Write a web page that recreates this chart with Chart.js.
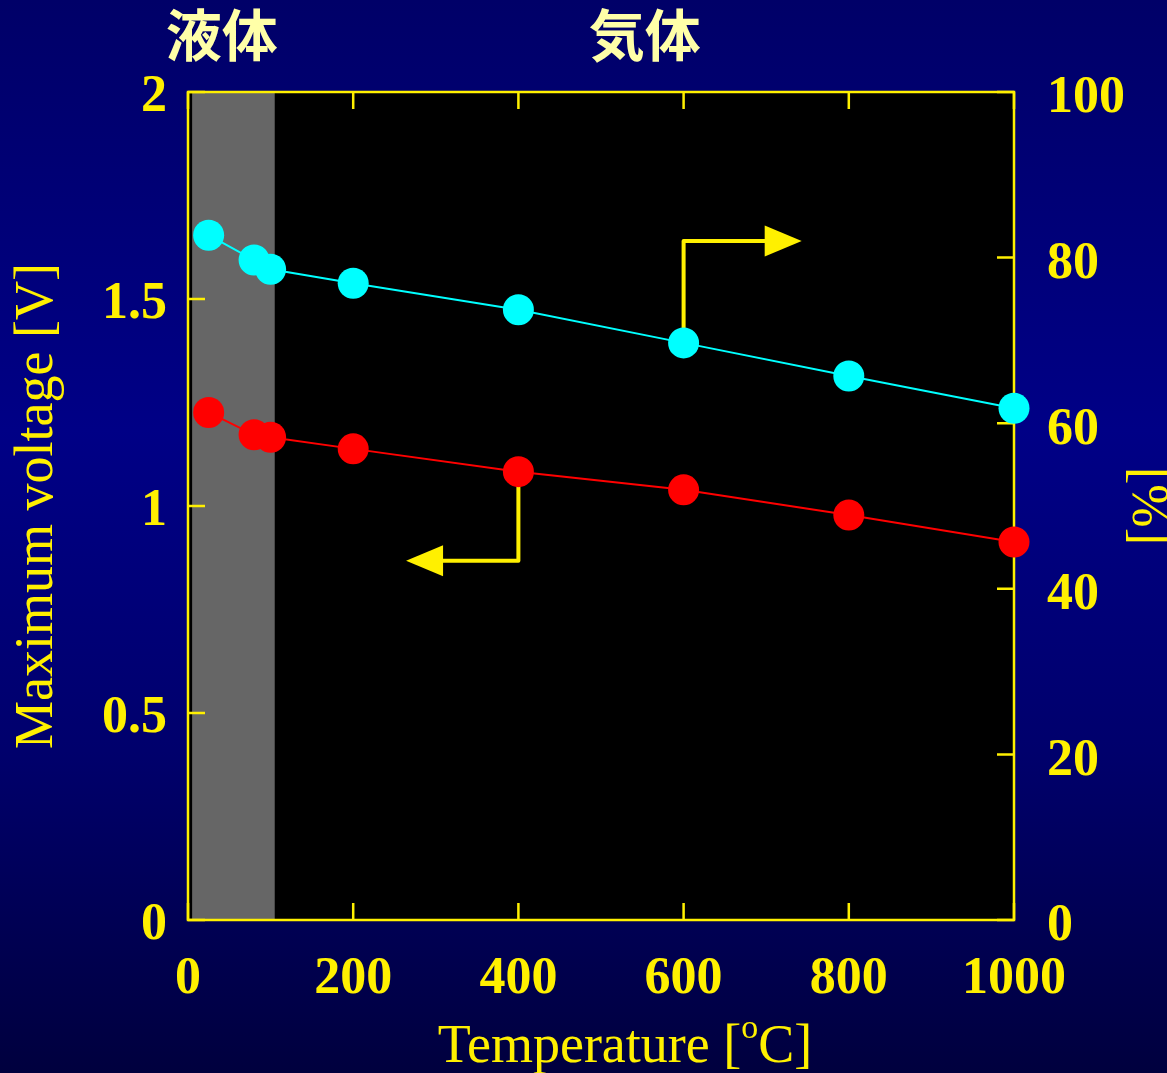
<!DOCTYPE html>
<html>
<head>
<meta charset="utf-8">
<script src="https://cdn.jsdelivr.net/npm/chart.js@4.4.0/dist/chart.umd.min.js"></script>
<style>
  html, body { margin: 0; padding: 0; background: #000060; }
  canvas { display: block; }
</style>
</head>
<body>
<canvas id="tempChart" width="1167" height="1073"></canvas>
<script>
// temperature [degC]
var temps = [25, 80, 100, 200, 400, 600, 800, 1000];
// maximum voltage [V] (left axis)
var maxVoltage = [1.226, 1.172, 1.166, 1.138, 1.083, 1.039, 0.978, 0.913];
// efficiency [%] (right axis)
var efficiency = [82.7, 79.7, 78.6, 76.9, 73.7, 69.7, 65.7, 61.8];

var xTicks = [0, 200, 400, 600, 800, 1000];
var yTicks = [0, 0.5, 1, 1.5, 2];
var y1Ticks = [0, 20, 40, 60, 80, 100];

// liquid region (grey band) on the temperature axis
var liquidRange = [5, 105];
var phaseLabels = ['液体', '気体'];
var phaseLabelX = [41, 553];

// arrow paths, in axis units
var effArrowX = [600, 600, 743];
var effArrowY = [69.7, 82, 82];
var voltArrowX = [400, 400, 264];
var voltArrowY = [1.083, 0.868, 0.868];

var YELLOW = '#fff000';
var SERIF = '"Liberation Serif", "Times New Roman", serif';

function fixTicks(values) {
  return function(scale) {
    scale.ticks = values.map(function(v) { return { value: v }; });
  };
}

function plainLabel(value) {
  return String(value);
}

function drawArrow(ctx, xs, ys, xScale, yScale) {
  var pts = xs.map(function(x, i) {
    return [xScale.getPixelForValue(x), yScale.getPixelForValue(ys[i])];
  });
  var n = pts.length;
  var tip = pts[n - 1], prev = pts[n - 2];
  var dir = tip[0] > prev[0] ? 1 : -1;
  var headLen = 37, headHalf = 15.5;
  ctx.save();
  ctx.strokeStyle = YELLOW;
  ctx.fillStyle = YELLOW;
  ctx.lineWidth = 4;
  ctx.lineJoin = 'round';
  ctx.lineCap = 'round';
  ctx.beginPath();
  ctx.moveTo(pts[0][0], pts[0][1]);
  for (var i = 1; i < n - 1; i++) ctx.lineTo(pts[i][0], pts[i][1]);
  ctx.lineTo(tip[0] - dir * headLen, tip[1]);
  ctx.stroke();
  ctx.beginPath();
  ctx.moveTo(tip[0], tip[1]);
  ctx.lineTo(tip[0] - dir * headLen, tip[1] - headHalf);
  ctx.lineTo(tip[0] - dir * headLen, tip[1] + headHalf);
  ctx.closePath();
  ctx.fill();
  ctx.restore();
}

var framePlugin = {
  id: 'frame',
  beforeDraw: function(chart) {
    var ctx = chart.ctx;
    var g = ctx.createLinearGradient(0, 0, 0, chart.height);
    g.addColorStop(0, '#000068');
    g.addColorStop(0.4, '#000086');
    g.addColorStop(0.7, '#00006c');
    g.addColorStop(1, '#00003e');
    ctx.save();
    ctx.fillStyle = g;
    ctx.fillRect(0, 0, chart.width, chart.height);
    ctx.restore();
  },
  beforeDatasetsDraw: function(chart) {
    var ctx = chart.ctx, a = chart.chartArea;
    var xs = chart.scales.x, ys = chart.scales.y, y1 = chart.scales.y1;
    ctx.save();
    ctx.fillStyle = '#000000';
    ctx.fillRect(a.left, a.top, a.right - a.left, a.bottom - a.top);
    var g0 = xs.getPixelForValue(liquidRange[0]);
    var g1 = xs.getPixelForValue(liquidRange[1]);
    ctx.fillStyle = '#666666';
    ctx.fillRect(g0, a.top, g1 - g0, a.bottom - a.top);

    // frame
    ctx.strokeStyle = YELLOW;
    ctx.lineWidth = 2.5;
    ctx.strokeRect(a.left, a.top, a.right - a.left, a.bottom - a.top);

    // inward ticks
    var tl = 17;
    ctx.beginPath();
    xs.ticks.forEach(function(t) {
      var px = xs.getPixelForValue(t.value);
      ctx.moveTo(px, a.bottom); ctx.lineTo(px, a.bottom - tl);
      ctx.moveTo(px, a.top); ctx.lineTo(px, a.top + tl);
    });
    ys.ticks.forEach(function(t) {
      var py = ys.getPixelForValue(t.value);
      ctx.moveTo(a.left, py); ctx.lineTo(a.left + tl, py);
    });
    y1.ticks.forEach(function(t) {
      var py = y1.getPixelForValue(t.value);
      ctx.moveTo(a.right, py); ctx.lineTo(a.right - tl, py);
    });
    ctx.stroke();
    ctx.restore();

    drawArrow(ctx, effArrowX, effArrowY, xs, y1);
    drawArrow(ctx, voltArrowX, voltArrowY, xs, ys);
  },
  afterDraw: function(chart) {
    var ctx = chart.ctx, a = chart.chartArea, xs = chart.scales.x;
    ctx.save();
    // phase labels
    ctx.fillStyle = '#ffffa8';
    ctx.font = 'bold 56px "Noto Sans CJK JP", sans-serif';
    ctx.textAlign = 'center';
    ctx.textBaseline = 'middle';
    phaseLabels.forEach(function(lbl, i) {
      ctx.fillText(lbl, xs.getPixelForValue(phaseLabelX[i]), 35);
    });

    // x axis title with superscript o
    ctx.fillStyle = YELLOW;
    ctx.textBaseline = 'alphabetic';
    ctx.textAlign = 'left';
    var big = '54px ' + SERIF;
    var small = '34px ' + SERIF;
    var p1 = 'Temperature [', sup = 'o', p2 = 'C]';
    ctx.font = big;
    var w1 = ctx.measureText(p1).width, w3 = ctx.measureText(p2).width;
    ctx.font = small;
    var w2 = ctx.measureText(sup).width;
    var total = w1 + w2 + w3;
    var cx = (a.left + a.right) / 2 + 24;
    var x0 = cx - total / 2, base = 1062;
    ctx.font = big;
    ctx.fillText(p1, x0, base);
    ctx.font = small;
    ctx.fillText(sup, x0 + w1, base - 24);
    ctx.font = big;
    ctx.fillText(p2, x0 + w1 + w2, base);
    ctx.restore();
  }
};

var ctx = document.getElementById('tempChart');

var chart = new Chart(ctx, {
  type: 'line',
  data: {
    datasets: [
      {
        label: 'Maximum voltage',
        data: temps.map(function(t, i) { return { x: t, y: maxVoltage[i] }; }),
        yAxisID: 'y',
        borderColor: '#ff0000',
        backgroundColor: '#ff0000',
        borderWidth: 2,
        pointRadius: 15.5,
        pointBorderWidth: 0,
        tension: 0
      },
      {
        label: 'Efficiency',
        data: temps.map(function(t, i) { return { x: t, y: efficiency[i] }; }),
        yAxisID: 'y1',
        borderColor: '#00ffff',
        backgroundColor: '#00ffff',
        borderWidth: 2,
        pointRadius: 15.5,
        pointBorderWidth: 0,
        tension: 0
      }
    ]
  },
  options: {
    responsive: false,
    animation: false,
    clip: false,
    layout: { padding: { top: 92, left: 0, right: 0, bottom: 0 } },
    plugins: {
      legend: { display: false },
      tooltip: { enabled: false }
    },
    scales: {
      x: {
        type: 'linear',
        min: 0,
        max: 1000,
        afterBuildTicks: fixTicks(xTicks),
        afterFit: function(s) { s.height = 153; },
        grid: { display: false, drawTicks: false },
        border: { display: false },
        ticks: {
          color: YELLOW,
          font: { family: SERIF, size: 52, weight: 'bold' },
          padding: 28,
          maxRotation: 0,
          autoSkip: false,
          callback: plainLabel
        }
      },
      y: {
        position: 'left',
        min: 0,
        max: 2,
        afterBuildTicks: fixTicks(yTicks),
        afterFit: function(s) { s.width = 188; },
        grid: { display: false, drawTicks: false },
        border: { display: false },
        ticks: {
          color: YELLOW,
          font: { family: SERIF, size: 52, weight: 'bold' },
          padding: 21,
          labelOffset: 6,
          callback: plainLabel
        },
        title: {
          display: true,
          text: 'Maximum voltage [V]',
          color: YELLOW,
          font: { family: SERIF, size: 54, lineHeight: 1.2 },
          padding: { top: 5, bottom: 0 }
        }
      },
      y1: {
        position: 'right',
        min: 0,
        max: 100,
        afterBuildTicks: fixTicks(y1Ticks),
        afterFit: function(s) { s.width = 153; },
        grid: { display: false, drawTicks: false },
        border: { display: false },
        ticks: {
          color: YELLOW,
          font: { family: SERIF, size: 52, weight: 'bold' },
          padding: 33,
          labelOffset: 7,
          callback: plainLabel
        },
        title: {
          display: true,
          text: '[%]',
          color: YELLOW,
          font: { family: SERIF, size: 52, lineHeight: 0.8 },
          padding: { top: 0, bottom: 0 }
        }
      }
    }
  },
  plugins: [framePlugin]
});
</script>
</body>
</html>
